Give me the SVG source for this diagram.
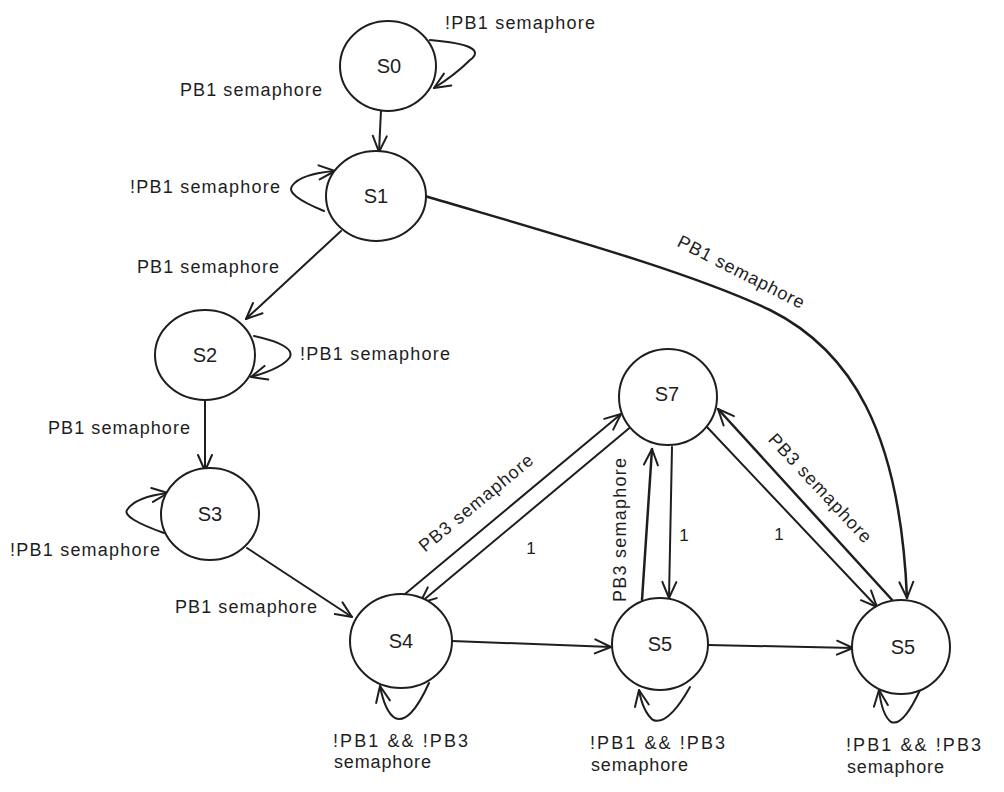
<svg xmlns="http://www.w3.org/2000/svg" width="1004" height="792" viewBox="0 0 1004 792">
<style>
.n{fill:#fff;stroke:#1e1e1e;stroke-width:2}
.nl{font-family:"Liberation Sans",Arial,sans-serif;font-size:20px;fill:#1e1e1e;text-anchor:middle}
.c{fill:none;stroke:#1e1e1e;stroke-width:2;stroke-linecap:round;marker-end:url(#ah)}
.t{font-family:"Liberation Sans",Arial,sans-serif;font-size:18px;fill:#1e1e1e}
.m{text-anchor:middle}
</style>
<defs>
<marker id="ah" viewBox="0 0 20 20" refX="18" refY="10" markerWidth="20" markerHeight="20" markerUnits="userSpaceOnUse" orient="auto">
<path d="M2,3 L18,10 L2,17" fill="none" stroke="#1e1e1e" stroke-width="2" stroke-linecap="round" stroke-linejoin="round"/>
</marker>
</defs>
<rect width="1004" height="792" fill="#fff"/>
<g id="connectors">
<path class="c" d="M381,110 L379,152"/>
<path class="c" d="M430,40 Q490,45 470,60 Q455,75 434,88"/>
<path class="c" d="M324,211 Q285,195 292,186 Q300,174 335,171"/>
<path class="c" d="M341,231 L246,319"/>
<path class="c" style="stroke-width:2.5" d="M425,196 C560,236 690,272 770,310 C850,350 900,430 907,598"/>
<path class="c" d="M254,336 Q295,345 290,357 Q283,368 251,377"/>
<path class="c" d="M205,400 L205,471"/>
<path class="c" d="M164,533 Q122,518 127,510 Q135,497 168,493"/>
<path class="c" d="M247,548 L352,617"/>
<path class="c" d="M405,594 L621,414"/>
<path class="c" d="M633,425 L420,603"/>
<path class="c" style="stroke-width:2.5" d="M642,600 L652,449"/>
<path class="c" d="M672,447 L669,598"/>
<path class="c" d="M707,427 L877,607"/>
<path class="c" style="stroke-width:2.5" d="M894,602 L718,409"/>
<path class="c" d="M452,641 L611,647"/>
<path class="c" d="M708,645 L853,648"/>
<path class="c" d="M429,683 Q410,725 395,718 Q385,712 380,686"/>
<path class="c" d="M690,687 Q668,726 653,720 Q643,712 639,690"/>
<path class="c" d="M920,690 Q903,727 891,722 Q882,715 879,690"/>
</g>
<g id="labels">
<text class="t" x="445" y="29" textLength="150">!PB1 semaphore</text>
<text class="t" x="180" y="96" textLength="142">PB1 semaphore</text>
<text class="t" x="130" y="193" textLength="150">!PB1 semaphore</text>
<text class="t" x="137" y="273" textLength="142">PB1 semaphore</text>
<text class="t m" transform="translate(741,272) rotate(27)" x="0" y="6" textLength="140">PB1 semaphore</text>
<text class="t" x="300" y="360" textLength="150">!PB1 semaphore</text>
<text class="t" x="48" y="434" textLength="142">PB1 semaphore</text>
<text class="t" x="10" y="556" textLength="150">!PB1 semaphore</text>
<text class="t" x="175" y="613" textLength="142">PB1 semaphore</text>
<text class="t m" transform="translate(476,503) rotate(-39.5)" x="0" y="6" textLength="142">PB3 semaphore</text>
<text class="t m" x="531" y="554" style="font-size:17px">1</text>
<text class="t m" transform="translate(620,530) rotate(-90)" x="0" y="6" textLength="144">PB3 semaphore</text>
<text class="t m" x="684" y="541" style="font-size:17px">1</text>
<text class="t m" x="779" y="540" style="font-size:17px">1</text>
<text class="t m" transform="translate(820,488) rotate(47)" x="0" y="6" textLength="142">PB3 semaphore</text>
<text class="t" x="333" y="747" textLength="135">!PB1 &amp;&amp; !PB3</text>
<text class="t" x="334" y="768" textLength="97">semaphore</text>
<text class="t" x="590" y="749" textLength="135">!PB1 &amp;&amp; !PB3</text>
<text class="t" x="591" y="771" textLength="97">semaphore</text>
<text class="t" x="846" y="751" textLength="135">!PB1 &amp;&amp; !PB3</text>
<text class="t" x="847" y="773" textLength="97">semaphore</text>
</g>
<g id="S0"><ellipse class="n" cx="388" cy="66" rx="48" ry="45"/><text class="nl" x="389" y="73">S0</text></g>
<g id="S1"><ellipse class="n" cx="376" cy="196" rx="50" ry="45"/><text class="nl" x="376" y="203">S1</text></g>
<g id="S2"><ellipse class="n" cx="205" cy="355" rx="50" ry="45"/><text class="nl" x="205" y="362">S2</text></g>
<g id="S3"><ellipse class="n" cx="210" cy="514" rx="49" ry="46"/><text class="nl" x="210" y="521">S3</text></g>
<g id="S7"><ellipse class="n" cx="668" cy="397" rx="49" ry="48"/><text class="nl" x="667" y="401">S7</text></g>
<g id="S4"><ellipse class="n" cx="401" cy="641" rx="51" ry="47"/><text class="nl" x="401" y="648">S4</text></g>
<g id="S5a"><ellipse class="n" cx="660" cy="644" rx="48" ry="46"/><text class="nl" x="660" y="651">S5</text></g>
<g id="S5b"><ellipse class="n" cx="901" cy="647" rx="49" ry="47"/><text class="nl" x="903" y="654">S5</text></g>
</svg>
